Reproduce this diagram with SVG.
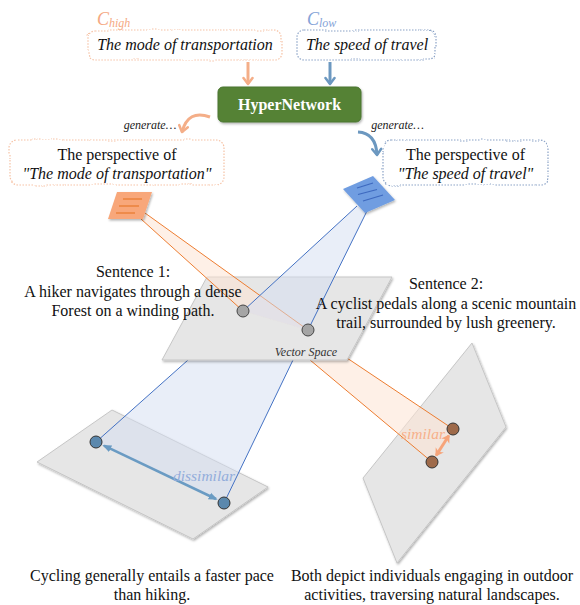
<svg xmlns="http://www.w3.org/2000/svg" width="580" height="605" viewBox="0 0 580 605">
<defs>
<style>
.serif{font-family:"Liberation Serif","Times New Roman",serif;}
.t16{font-size:16px;fill:#111;}
.it{font-style:italic;}
.plane{fill:#e6e6e6;stroke:#c6c6c6;stroke-width:1;}
.obeam{fill:#fde4d3;fill-opacity:0.55;}
.bbeam{fill:#d3ddf1;fill-opacity:0.5;}
.oline{stroke:#ed7d31;stroke-width:1;fill:none;}
.bline{stroke:#4472c4;stroke-width:1;fill:none;}
.obox{fill:#fff;stroke:#f6c2a5;stroke-width:1.2;stroke-dasharray:1.5 1.5;}
.bbox{fill:#fff;stroke:#8aa2c6;stroke-width:1.2;stroke-dasharray:1.5 1.5;}
.gen{font-size:12px;fill:#222;}
</style>
<filter id="sh" x="-20%" y="-20%" width="140%" height="140%"><feDropShadow dx="1" dy="1.5" stdDeviation="0.8" flood-color="#000" flood-opacity="0.3"/></filter>
<filter id="wavy" x="-5%" y="-20%" width="110%" height="140%"><feTurbulence type="fractalNoise" baseFrequency="0.045" numOctaves="1" seed="3" result="n"/><feDisplacementMap in="SourceGraphic" in2="n" scale="3" xChannelSelector="R" yChannelSelector="G"/></filter>
<marker id="chevO" viewBox="0 0 12 12" refX="9" refY="6" markerWidth="12" markerHeight="12" markerUnits="userSpaceOnUse" orient="auto"><path d="M3,1.5 L9,6 L3,10.5" fill="none" stroke="#f4ae88" stroke-width="2.5" stroke-linecap="round" stroke-linejoin="round"/></marker>
<marker id="chevB" viewBox="0 0 12 12" refX="9" refY="6" markerWidth="12" markerHeight="12" markerUnits="userSpaceOnUse" orient="auto"><path d="M3,1.5 L9,6 L3,10.5" fill="none" stroke="#6c98c0" stroke-width="2.5" stroke-linecap="round" stroke-linejoin="round"/></marker>
<marker id="triB" viewBox="0 0 10 10" refX="8" refY="5" markerWidth="9" markerHeight="9" markerUnits="userSpaceOnUse" orient="auto-start-reverse"><path d="M0,1 L10,5 L0,9 Z" fill="#6a9bc3"/></marker>
<marker id="barbO" viewBox="0 0 10 12" refX="8" refY="6" markerWidth="8" markerHeight="11" markerUnits="userSpaceOnUse" orient="auto-start-reverse"><path d="M0,0 L10,6 L0,12 L3,6 Z" fill="#f6a47a"/></marker>
</defs>

<g id="plane-lower-left"><polygon class="plane" points="112,410 268,487 193,539 37,462" filter="url(#sh)"/></g>
<g id="plane-lower-right"><polygon class="plane" points="472,343 506,427 397,563 363,478" filter="url(#sh)"/></g>

<g id="connectors-lower">
<polygon class="bbeam" points="188,360 293,360 224,503 96,442"/>
<line class="bline" x1="188" y1="360" x2="96" y2="442"/>
<line class="bline" x1="293" y1="360" x2="224" y2="503"/>
<polygon class="obeam" points="347,358 310,360 432,462 453,429"/>
<line class="oline" x1="347" y1="358" x2="453" y2="429"/>
<line class="oline" x1="310" y1="360" x2="432" y2="462"/>
</g>

<g id="vector-space"><polygon class="plane" points="207,277 392,277 347,360 162,360" filter="url(#sh)"/>
<text class="serif it" x="306" y="356" font-size="12" fill="#333" text-anchor="middle">Vector Space</text></g>

<g id="connectors-upper">
<polygon class="obeam" points="141,219 145,213 308,330 243,311"/>
<line class="oline" x1="141" y1="219" x2="243" y2="311"/>
<line class="oline" x1="145" y1="213" x2="308" y2="330"/>
<polygon class="bbeam" points="357,206 367,211 308,330 243,311"/>
<line class="bline" x1="357" y1="206" x2="243" y2="311"/>
<line class="bline" x1="367" y1="211" x2="308" y2="330"/>
</g>

<g id="points">
<circle cx="243" cy="311" r="6" fill="#a5a5a5" stroke="#444" stroke-width="1"/>
<circle cx="308" cy="330" r="6" fill="#a5a5a5" stroke="#444" stroke-width="1"/>
<circle cx="96" cy="442" r="6" fill="#5b88ad" stroke="#333" stroke-width="1"/>
<circle cx="224" cy="503" r="6" fill="#5b88ad" stroke="#333" stroke-width="1"/>
<circle cx="453" cy="429" r="6" fill="#9e6a4a" stroke="#333" stroke-width="1"/>
<circle cx="432" cy="462" r="6" fill="#9e6a4a" stroke="#333" stroke-width="1"/>
</g>

<g id="relation-dissimilar">
<line x1="104" y1="445.7" x2="216" y2="499" stroke="#6a9bc3" stroke-width="2.5" marker-start="url(#triB)" marker-end="url(#triB)"/>
<text class="serif it" x="204" y="481" font-size="15.5" fill="#93addb" text-anchor="middle">dissimilar</text>
</g>
<g id="relation-similar">
<line x1="448.7" y1="435.8" x2="436.3" y2="455.2" stroke="#f6a47a" stroke-width="3" marker-start="url(#barbO)" marker-end="url(#barbO)"/>
<text class="serif it" x="423" y="439" font-size="15.5" fill="#f7b08a" text-anchor="middle">similar</text>
</g>

<g id="paper-orange" filter="url(#sh)">
<polygon points="117,192 152,192 143,219 108,219" fill="#f8a77a"/>
<line x1="123" y1="199" x2="142" y2="199" stroke="#e8782e" stroke-width="1.2"/>
<line x1="119" y1="206" x2="139" y2="206" stroke="#e8782e" stroke-width="1.2"/>
<line x1="116" y1="213" x2="135" y2="213" stroke="#e8782e" stroke-width="1.2"/>
</g>
<g id="paper-blue" filter="url(#sh)">
<polygon points="343,189 373,176 395,200 365,213" fill="#6f9de1"/>
<line x1="357" y1="188" x2="373" y2="183" stroke="#3e69bf" stroke-width="1.2"/>
<line x1="358" y1="194.5" x2="377" y2="189.5" stroke="#3e69bf" stroke-width="1.2"/>
<line x1="363" y1="201" x2="383" y2="195" stroke="#3e69bf" stroke-width="1.2"/>
</g>

<g id="c-high">
<text class="serif it" x="97" y="25" font-size="18" fill="#f5a983">C<tspan font-size="12" dy="2">high</tspan></text>
<rect class="obox" x="88" y="30" width="194" height="30" rx="7" filter="url(#wavy)"/>
<text class="serif it t16" x="185" y="50" text-anchor="middle">The mode of transportation</text>
</g>
<g id="c-low">
<text class="serif it" x="307" y="25" font-size="18" fill="#86a4d8">C<tspan font-size="12" dy="2">low</tspan></text>
<rect class="bbox" x="297" y="30" width="139" height="30" rx="7" filter="url(#wavy)"/>
<text class="serif it t16" x="367" y="50" text-anchor="middle">The speed of travel</text>
</g>

<g id="hypernetwork">
<rect x="218" y="87" width="143" height="35" rx="5" fill="#548235" stroke="#4a7530" filter="url(#sh)"/>
<text class="serif" x="289.5" y="110" font-size="16" font-weight="bold" fill="#fff" text-anchor="middle">HyperNetwork</text>
</g>

<g id="connectors-top">
<line x1="248" y1="62" x2="248" y2="84" stroke="#f4ae88" stroke-width="3" marker-end="url(#chevO)"/>
<line x1="330" y1="62" x2="330" y2="84" stroke="#6c98c0" stroke-width="3" marker-end="url(#chevB)"/>
<path d="M210,117 Q188,109 182,132" fill="none" stroke="#f4ae88" stroke-width="3" marker-end="url(#chevO)"/>
<path d="M358,132 Q376,133 377,155" fill="none" stroke="#6c98c0" stroke-width="3" marker-end="url(#chevB)"/>
<text class="serif it gen" x="150" y="129" text-anchor="middle">generate…</text>
<text class="serif it gen" x="397.5" y="129" text-anchor="middle">generate…</text>
</g>

<g id="perspective-high">
<rect class="obox" x="10" y="140" width="214" height="45" rx="8" filter="url(#wavy)"/>
<text class="serif t16" x="117" y="160" text-anchor="middle">The perspective of</text>
<text class="serif it t16" x="117" y="179" text-anchor="middle">"The mode of transportation"</text>
</g>
<g id="perspective-low">
<rect class="bbox" x="383" y="140" width="165" height="45" rx="8" filter="url(#wavy)"/>
<text class="serif t16" x="465.5" y="160" text-anchor="middle">The perspective of</text>
<text class="serif it t16" x="465.5" y="179" text-anchor="middle">"The speed of travel"</text>
</g>

<g id="sentence-1" class="serif t16" text-anchor="middle">
<text x="133" y="277">Sentence 1:</text>
<text x="133" y="296.5">A hiker navigates through a dense</text>
<text x="133" y="316">Forest on a winding path.</text>
</g>
<g id="sentence-2" class="serif t16" text-anchor="middle">
<text x="446" y="289">Sentence 2:</text>
<text x="446" y="308.5">A cyclist pedals along a scenic mountain</text>
<text x="446" y="327.5">trail, surrounded by lush greenery.</text>
</g>

<g id="caption-left" class="serif t16" text-anchor="middle">
<text x="152" y="581">Cycling generally entails a faster pace</text>
<text x="152" y="600">than hiking.</text>
</g>
<g id="caption-right" class="serif t16" text-anchor="middle">
<text x="432" y="581">Both depict individuals engaging in outdoor</text>
<text x="432" y="600">activities, traversing natural landscapes.</text>
</g>
</svg>
